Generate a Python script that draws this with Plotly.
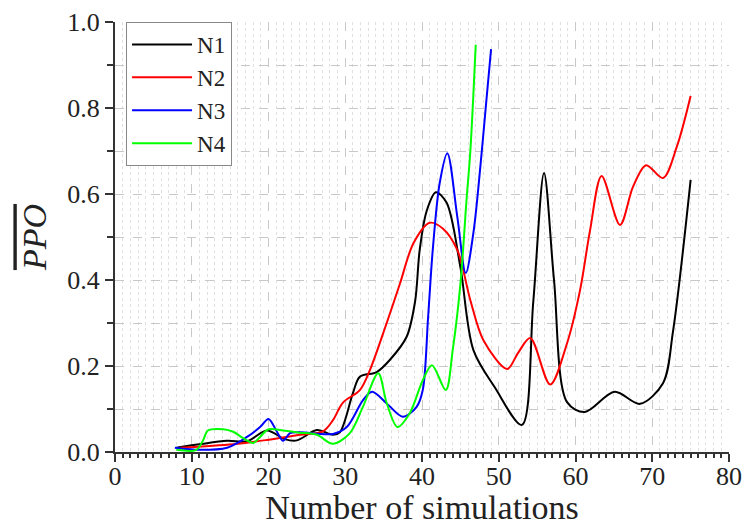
import plotly.graph_objects as go

n1_x = [8, 11, 14.6, 17.2, 19.8, 22.1, 23.7, 26.3, 28.4, 29.3, 31, 31.9, 34.1, 35.8, 38, 39.1, 39.7, 40.6, 41.8, 43.2, 45, 46.7, 49.5, 53, 54.5, 55.9, 57.2, 58.9, 61.2, 65.1, 68.4, 71.4, 72.7, 75]
n1_y = [0.01, 0.018, 0.026, 0.025, 0.05, 0.03, 0.027, 0.051, 0.04, 0.046, 0.137, 0.175, 0.186, 0.214, 0.268, 0.35, 0.47, 0.56, 0.604, 0.58, 0.43, 0.237, 0.15, 0.063, 0.35, 0.649, 0.4, 0.116, 0.093, 0.14, 0.112, 0.16, 0.28, 0.633]

n2_x = [8.5, 15.4, 19.8, 24.1, 27.1, 28.4, 29.7, 31.9, 33.2, 35.4, 37.1, 38.9, 41, 42.7, 44.6, 46.3, 48, 51.1, 52.5, 54.1, 56.7, 58.9, 60.6, 61.9, 63.4, 65.8, 67.5, 69.2, 71.4, 73.2, 75]
n2_y = [0.01, 0.018, 0.028, 0.04, 0.048, 0.074, 0.115, 0.144, 0.19, 0.3, 0.39, 0.486, 0.533, 0.52, 0.47, 0.353, 0.26, 0.193, 0.23, 0.265, 0.157, 0.253, 0.377, 0.516, 0.642, 0.528, 0.617, 0.667, 0.637, 0.71, 0.828]

n3_x = [7.8, 11.1, 14.6, 17.2, 18.9, 20, 21.1, 21.9, 22.8, 24.1, 28.4, 30.2, 32.3, 33.5, 35.4, 37.5, 39.3, 40.1, 40.8, 41.4, 42.3, 43.3, 44.6, 45.7, 46.7, 47.6, 48.3, 49]
n3_y = [0.01, 0.005, 0.01, 0.035, 0.058, 0.077, 0.047, 0.026, 0.044, 0.046, 0.042, 0.058, 0.12, 0.14, 0.113, 0.082, 0.105, 0.144, 0.315, 0.47, 0.625, 0.695, 0.547, 0.416, 0.51, 0.663, 0.8, 0.937]

n4_x = [8, 10.6, 11.5, 12.1, 14.1, 15.4, 16.7, 18, 18.9, 20, 21.9, 24.1, 26.3, 28.4, 30.6, 32.3, 34.3, 35.4, 36.8, 38.4, 40.1, 41.3, 43.1, 44, 45, 45.8, 46.3, 47]
n4_y = [0.005, 0.005, 0.028, 0.05, 0.053, 0.047, 0.032, 0.021, 0.035, 0.053, 0.05, 0.045, 0.04, 0.019, 0.044, 0.105, 0.183, 0.114, 0.058, 0.09, 0.167, 0.202, 0.144, 0.237, 0.39, 0.586, 0.7, 0.947]

names = ["N1", "N2", "N3", "N4"]
colors = ["#000000", "#ff0000", "#0000ff", "#00ff00"]
series = [(n1_x, n1_y), (n2_x, n2_y), (n3_x, n3_y), (n4_x, n4_y)]

FONT = "Liberation Serif"

fig = go.Figure()
for (xs, ys), nm, c in zip(series, names, colors):
    fig.add_trace(go.Scatter(x=xs, y=ys, name=nm, mode="lines",
                             line=dict(color=c, width=2, shape="spline", smoothing=0.9)))

fig.update_layout(
    template="none",
    width=746, height=526,
    margin=dict(l=115, r=17, t=22, b=74),
    plot_bgcolor="white", paper_bgcolor="white",
    font=dict(family=FONT, size=26, color="#222"),
    legend=dict(x=0.018, y=1.0, xanchor="left", yanchor="top",
                bordercolor="#888", borderwidth=1, bgcolor="white",
                font=dict(family=FONT, size=23, color="#222"),
                itemwidth=60, tracegroupgap=0),
    xaxis=dict(range=[0, 80], dtick=10, tick0=0, automargin=False,
               showline=True, linecolor="#333", linewidth=2,
               ticks="outside", ticklen=8, tickwidth=2, tickcolor="#333",
               ticklabelstandoff=-8,
               showgrid=True, gridcolor="#c8c8c8", griddash="dash", gridwidth=1,
               zeroline=False,
               minor=dict(dtick=1, ticks="outside", ticklen=4, tickcolor="#333",
                          showgrid=True, gridcolor="#e0e0e0", griddash="dot"),
               title=dict(text="Number of simulations", font=dict(size=34, family=FONT, color="#222"), standoff=6),
               tickfont=dict(size=26, family=FONT, color="#222")),
    yaxis=dict(range=[0, 1.0], dtick=0.2, tick0=0, tickformat=".1f", automargin=False,
               showline=True, linecolor="#333", linewidth=2,
               ticks="outside", ticklen=8, tickwidth=2, tickcolor="#333",
               showgrid=True, gridcolor="#c8c8c8", griddash="dash", gridwidth=1,
               zeroline=False,
               minor=dict(dtick=0.1, ticks="outside", ticklen=6, tickcolor="#333",
                          showgrid=True, gridcolor="#c8c8c8", griddash="dash"),
               title=dict(text='<i><span style="text-decoration:overline">PPO</span></i>',
                          font=dict(size=34, family=FONT, color="#222"), standoff=10),
               tickfont=dict(size=26, family=FONT, color="#222")),
)

fig.write_html("out.html")
